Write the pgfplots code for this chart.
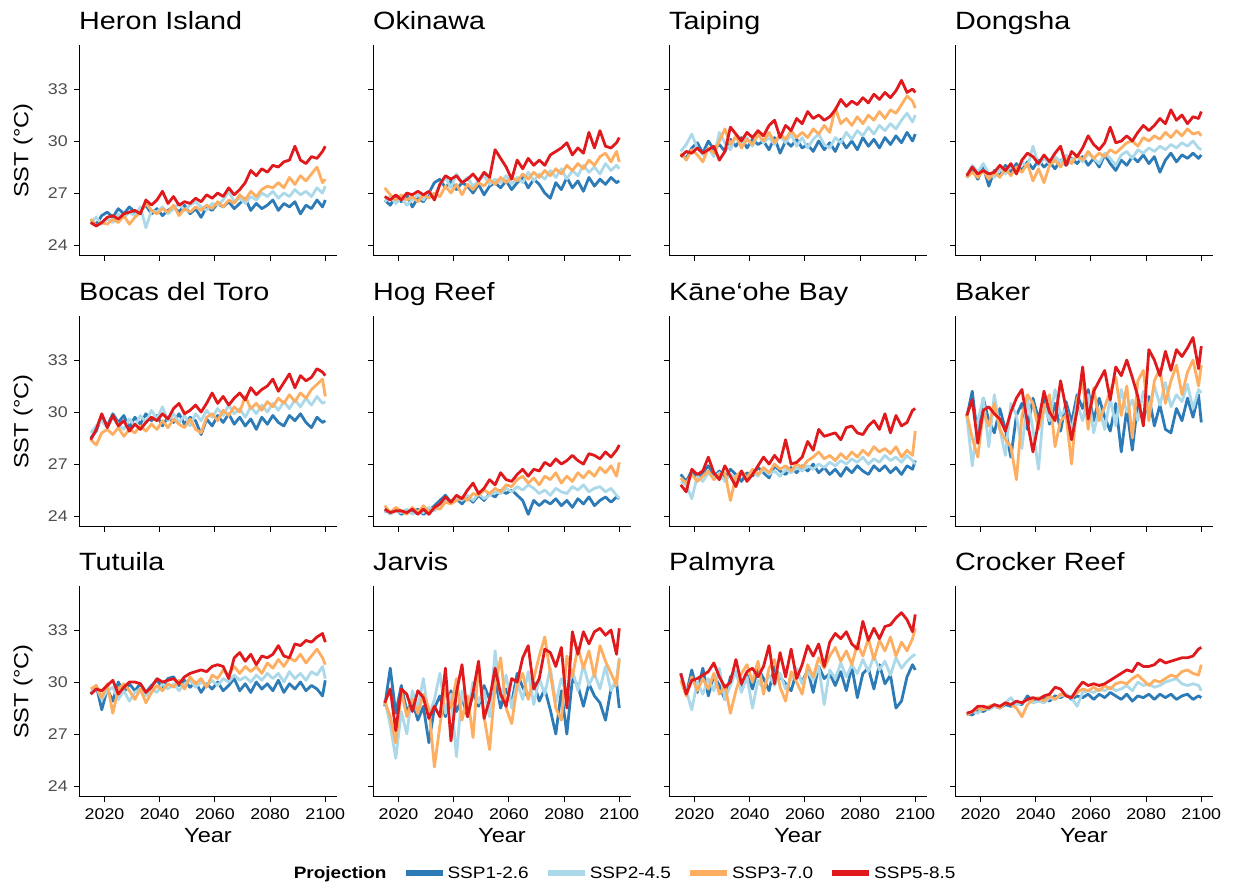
\documentclass[border=0pt]{standalone}
\usepackage{fontspec}
\setmainfont{Liberation Sans}[FakeStretch=1.15]
\usepackage{pgfplots}
\usepackage{pgfplotstable}
\pgfplotsset{compat=1.18}
\definecolor{c1}{HTML}{2C7BB6}
\definecolor{c2}{HTML}{ABD9E9}
\definecolor{c3}{HTML}{FDAE61}
\definecolor{c4}{HTML}{E0191C}
\definecolor{gray30}{HTML}{4D4D4D}

\pgfplotstableread{
yr a b c d
2015 25.4 25.3 25.5 25.3
2017 25.2 25.6 25.1 25.1
2019 25.7 25.2 25.3 25.3
2021 25.9 25.5 25.2 25.6
2023 25.6 25.3 25.5 25.7
2025 26.1 25.8 25.3 25.5
2027 25.8 25.6 25.7 25.8
2029 26.2 25.9 25.2 25.9
2031 25.9 25.7 25.6 26.0
2033 26.0 26.2 25.9 25.8
2035 26.3 25.0 26.4 26.6
2037 25.8 26.0 26.0 26.3
2039 26.1 25.9 25.8 26.6
2041 25.7 26.2 26.1 27.1
2043 26.0 25.8 25.9 26.4
2045 26.2 26.1 26.3 26.8
2047 25.9 26.4 25.7 26.3
2049 26.3 26.0 26.1 26.5
2051 25.8 26.3 25.9 26.4
2053 26.1 26.5 26.2 26.7
2055 25.6 26.2 26.0 26.5
2057 26.2 26.0 26.3 26.9
2059 26.0 26.4 26.1 26.7
2061 26.4 26.3 26.5 27.0
2063 26.2 26.6 26.2 26.8
2065 26.5 27.1 26.6 27.3
2067 26.1 26.5 26.4 26.9
2069 26.4 26.7 26.9 27.2
2071 26.7 26.4 26.6 27.6
2073 26.0 26.8 27.1 28.3
2075 26.4 26.6 26.8 28.0
2077 26.1 27.0 27.2 28.4
2079 26.3 26.8 27.4 28.2
2081 26.6 27.1 27.3 28.6
2083 26.0 26.7 27.6 28.5
2085 26.4 27.0 27.3 28.8
2087 26.2 26.8 27.9 28.9
2089 26.5 27.2 27.5 29.7
2091 25.8 26.9 28.0 28.9
2093 26.3 27.1 27.7 28.7
2095 26.1 26.8 28.1 29.1
2097 26.6 27.3 28.5 29.0
2099 26.2 27.0 27.6 29.4
2100 26.6 27.4 27.8 29.7
}\tHeron

\pgfplotstableread{
yr a b c d
2015 26.6 26.5 27.3 26.8
2017 26.3 26.8 26.9 26.6
2019 26.8 26.4 26.6 26.9
2021 26.5 26.7 26.9 26.6
2023 26.9 26.3 26.6 27.0
2025 26.2 26.6 26.8 26.9
2027 26.7 26.9 26.5 27.1
2029 26.5 26.6 26.9 26.9
2031 27.0 27.1 26.7 27.1
2033 27.6 26.8 27.0 26.6
2035 27.8 27.5 26.8 27.5
2037 27.3 27.9 27.4 28.0
2039 27.7 27.3 27.0 27.8
2041 27.2 28.1 27.5 28.0
2043 27.6 27.6 26.9 27.6
2045 27.4 27.9 27.5 27.8
2047 27.0 27.4 27.2 28.1
2049 27.5 27.7 27.6 27.7
2051 26.9 28.0 27.4 28.2
2053 27.4 27.5 27.8 27.9
2055 27.6 27.8 27.5 29.5
2057 27.3 27.6 27.9 29.0
2059 27.7 28.0 27.6 28.5
2061 27.2 27.5 27.9 27.8
2063 27.6 27.9 27.7 28.9
2065 27.9 27.6 28.1 28.4
2067 27.3 28.2 27.8 29.0
2069 27.8 27.7 28.2 28.6
2071 27.5 28.1 27.9 28.9
2073 27.0 27.8 28.3 28.6
2075 26.7 28.3 28.0 29.2
2077 27.6 27.9 28.4 29.4
2079 27.2 28.4 28.1 29.6
2081 27.9 27.8 28.6 29.9
2083 27.3 28.3 28.3 29.2
2085 27.7 28.0 28.7 29.6
2087 27.1 28.6 28.4 29.3
2089 27.9 28.2 28.9 30.5
2091 27.4 28.5 28.6 29.6
2093 27.8 28.1 29.1 30.6
2095 27.5 28.7 29.3 29.7
2097 27.9 28.3 28.8 29.6
2099 27.6 28.6 29.4 29.9
2100 27.7 28.4 28.8 30.2
}\tOkinawa

\pgfplotstableread{
yr a b c d
2015 29.2 29.4 29.3 29.1
2017 29.0 29.8 28.9 29.4
2019 29.6 30.4 29.5 29.3
2021 29.9 29.6 29.2 29.6
2023 29.3 29.2 28.8 29.3
2025 30.0 29.6 29.6 29.5
2027 29.5 29.1 29.3 29.7
2029 29.8 30.5 30.0 28.9
2031 29.4 29.9 30.7 29.4
2033 30.1 29.5 29.8 30.8
2035 29.7 30.3 30.3 30.4
2037 30.2 29.8 29.6 30.0
2039 29.6 30.2 30.1 30.5
2041 30.1 29.7 29.8 30.2
2043 29.8 30.4 30.4 30.6
2045 30.0 29.9 30.0 30.3
2047 29.5 30.2 30.5 30.9
2049 30.2 29.8 29.9 31.2
2051 29.3 30.3 30.4 30.2
2053 30.0 29.9 30.1 30.9
2055 29.7 30.4 30.6 30.6
2057 30.1 29.7 30.2 31.3
2059 29.6 30.2 30.5 31.0
2061 29.8 29.6 30.2 31.7
2063 29.4 30.1 30.7 31.3
2065 30.0 30.4 30.4 31.5
2067 29.5 29.8 30.9 31.2
2069 29.9 29.6 30.5 31.4
2071 29.4 30.2 31.9 31.8
2073 30.1 29.9 31.0 32.4
2075 29.6 30.5 31.3 32.0
2077 30.0 30.1 30.9 32.3
2079 29.5 30.6 31.4 32.1
2081 30.2 30.3 31.0 32.5
2083 29.7 30.8 31.5 32.2
2085 30.1 30.4 31.2 32.7
2087 29.6 30.9 31.7 32.4
2089 30.2 30.6 31.3 32.8
2091 29.8 31.0 31.8 32.5
2093 30.3 30.7 31.6 32.9
2095 29.9 31.2 32.1 33.5
2097 30.5 31.6 32.6 32.8
2099 30.0 31.1 32.3 33.0
2100 30.4 31.5 31.9 32.8
}\tTaiping

\pgfplotstableread{
yr a b c d
2015 27.9 28.0 27.9 28.0
2017 28.4 28.6 28.2 28.5
2019 27.8 28.2 27.9 28.1
2021 28.5 28.7 28.3 28.3
2023 27.4 28.1 27.8 28.1
2025 28.3 27.9 28.2 28.2
2027 28.0 28.4 27.9 28.6
2029 28.6 28.1 28.4 28.3
2031 28.2 28.6 28.0 28.7
2033 28.7 28.3 28.5 28.1
2035 28.3 28.8 28.2 28.9
2037 28.8 28.5 28.7 29.3
2039 28.4 29.7 27.7 29.1
2041 28.9 28.6 28.4 28.7
2043 28.5 29.0 27.6 29.2
2045 28.8 28.7 28.6 28.8
2047 28.4 29.1 28.9 29.3
2049 28.9 28.8 28.5 29.7
2051 28.6 29.2 29.0 28.6
2053 29.0 28.9 28.7 29.4
2055 28.7 29.1 29.2 29.1
2057 29.1 28.8 28.9 29.6
2059 28.6 29.3 29.4 30.3
2061 29.0 29.0 29.0 29.8
2063 28.5 28.7 29.3 29.5
2065 29.2 29.3 29.1 29.9
2067 28.7 29.0 29.5 30.8
2069 28.3 28.6 29.3 29.9
2071 28.9 29.2 29.6 30.0
2073 28.6 29.4 29.9 30.3
2075 29.1 29.0 30.0 30.0
2077 28.8 29.5 29.7 30.5
2079 29.2 29.3 30.2 30.9
2081 28.7 29.6 30.0 30.6
2083 29.1 29.4 30.3 30.9
2085 28.2 29.7 30.1 31.3
2087 28.9 29.5 30.5 31.0
2089 29.3 29.8 30.2 31.8
2091 28.8 29.6 30.6 31.2
2093 29.2 29.9 30.3 31.5
2095 29.0 29.7 30.7 31.0
2097 29.3 30.0 30.4 31.4
2099 29.0 29.6 30.5 31.3
2100 29.2 29.5 30.3 31.7
}\tDongsha

\pgfplotstableread{
yr a b c d
2015 28.5 28.8 28.4 28.4
2017 28.9 29.2 28.1 29.0
2019 29.8 29.5 28.8 29.9
2021 29.2 29.1 29.0 29.1
2023 29.9 29.7 28.7 29.8
2025 29.4 29.3 29.1 29.2
2027 29.8 29.0 28.6 29.5
2029 29.1 29.6 29.0 28.9
2031 29.7 29.2 28.8 29.3
2033 29.3 29.8 29.2 29.0
2035 29.9 29.4 28.9 29.4
2037 29.5 30.1 29.3 29.7
2039 29.8 29.6 29.0 29.5
2041 29.2 30.3 29.5 29.9
2043 29.7 29.5 29.1 29.6
2045 29.4 29.9 29.6 30.2
2047 29.9 29.4 29.3 30.5
2049 29.3 29.8 29.1 29.9
2051 29.7 29.2 29.6 30.1
2053 29.5 29.9 29.0 30.4
2055 28.7 29.5 28.8 30.0
2057 29.6 30.1 29.7 30.5
2059 29.2 29.7 29.9 31.1
2061 29.8 30.2 29.5 30.5
2063 29.4 29.8 30.1 30.9
2065 29.9 30.4 29.8 30.4
2067 29.3 29.9 30.3 30.8
2069 29.7 30.2 30.0 31.1
2071 29.2 29.7 30.9 30.7
2073 29.6 30.3 30.2 31.4
2075 29.0 29.9 30.5 31.0
2077 29.7 30.4 30.1 31.3
2079 29.3 30.0 30.6 31.5
2081 29.8 30.5 30.3 31.9
2083 29.4 30.1 30.8 31.2
2085 29.2 30.6 30.5 31.7
2087 29.8 30.2 31.0 32.2
2089 29.5 30.7 30.6 31.4
2091 29.9 30.3 31.1 32.1
2093 29.4 30.8 30.8 31.8
2095 29.1 30.4 31.3 32.0
2097 29.7 30.9 31.6 32.5
2099 29.4 30.5 31.9 32.3
2100 29.5 30.6 30.9 32.1
}\tBocas

\pgfplotstableread{
yr a b c d
2015 24.3 24.4 24.6 24.4
2017 24.2 24.1 24.2 24.2
2019 24.4 24.3 24.5 24.3
2021 24.1 24.2 24.3 24.3
2023 24.3 24.4 24.1 24.2
2025 24.2 24.1 24.5 24.4
2027 24.4 24.3 24.2 24.1
2029 24.1 24.2 24.6 24.4
2031 24.3 24.5 24.2 24.1
2033 24.6 24.3 24.5 24.5
2035 24.9 24.7 24.4 24.7
2037 25.2 25.0 24.8 25.1
2039 24.8 24.8 24.7 24.8
2041 25.0 25.1 24.9 25.2
2043 24.7 24.9 25.1 25.0
2045 25.1 25.2 24.9 25.5
2047 24.8 24.9 25.3 25.9
2049 25.2 25.3 25.2 25.3
2051 24.9 25.0 25.5 25.6
2053 25.3 25.2 25.3 26.1
2055 25.1 25.4 25.6 25.8
2057 25.5 25.3 25.4 26.5
2059 25.3 25.6 25.8 26.1
2061 25.5 25.4 25.7 26.0
2063 25.2 25.7 26.1 26.4
2065 24.9 25.5 26.3 26.7
2067 24.1 25.8 25.9 26.3
2069 24.9 25.6 26.2 26.7
2071 24.6 25.3 25.8 26.6
2073 24.9 25.5 26.3 27.1
2075 24.7 25.2 26.1 26.9
2077 25.0 25.6 26.5 27.3
2079 24.6 25.4 25.9 27.0
2081 24.9 25.3 26.3 27.2
2083 24.5 25.7 26.0 27.5
2085 25.0 25.5 26.5 27.2
2087 24.7 25.8 26.2 27.0
2089 25.1 25.4 26.6 27.6
2091 24.6 25.6 26.3 27.5
2093 24.9 25.7 26.8 27.3
2095 25.1 25.4 26.5 27.7
2097 24.8 25.6 26.9 27.4
2099 25.1 25.2 26.3 27.8
2100 25.0 25.0 27.1 28.1
}\tHog

\pgfplotstableread{
yr a b c d
2015 26.4 26.0 26.2 25.8
2017 26.0 25.8 25.9 25.4
2019 26.6 25.0 26.4 26.7
2021 26.2 26.3 26.0 26.4
2023 26.5 26.0 26.3 26.6
2025 26.9 26.5 26.6 27.4
2027 26.3 26.2 26.1 26.5
2029 26.6 26.5 26.4 26.1
2031 26.2 26.0 26.5 26.9
2033 26.7 26.4 24.9 26.3
2035 26.4 26.2 26.3 25.7
2037 26.0 26.5 26.6 26.6
2039 26.5 26.1 26.2 26.0
2041 26.3 26.6 26.7 26.4
2043 26.8 26.3 26.4 26.9
2045 26.5 26.7 26.8 27.4
2047 26.2 26.4 26.5 27.0
2049 26.9 26.6 27.0 27.5
2051 26.6 26.3 26.7 27.1
2053 26.4 26.7 26.9 28.4
2055 26.8 26.5 26.6 27.0
2057 26.5 26.8 27.0 27.1
2059 26.9 26.6 26.8 27.4
2061 26.6 26.9 27.2 28.3
2063 27.0 26.7 27.4 27.8
2065 26.5 27.0 27.7 29.0
2067 26.8 26.8 27.3 28.6
2069 26.4 27.1 27.5 28.7
2071 26.7 26.9 27.2 28.8
2073 26.3 27.2 27.6 28.4
2075 26.8 27.0 27.3 29.1
2077 26.5 27.3 27.7 29.2
2079 26.9 27.1 27.4 28.8
2081 26.6 27.4 27.8 28.7
2083 26.4 27.0 27.5 29.2
2085 26.9 27.3 28.0 29.5
2087 26.6 27.1 27.7 29.0
2089 26.9 27.5 27.9 29.9
2091 26.5 27.2 27.6 28.8
2093 26.8 27.4 28.0 29.8
2095 26.4 27.1 27.4 29.2
2097 26.9 27.5 27.8 29.4
2099 26.7 27.2 27.5 30.1
2100 27.2 27.0 28.9 30.2
}\tKaneohe

\pgfplotstableread{
yr a b c d
2015 29.7 29.8 29.9 29.8
2017 31.2 26.9 28.5 30.7
2019 28.5 29.5 27.4 28.2
2021 30.8 30.8 30.0 30.1
2023 29.5 28.0 29.2 30.3
2025 28.8 31.0 30.5 29.9
2027 30.2 29.0 29.0 29.6
2029 29.0 27.5 28.4 28.9
2031 27.4 30.5 28.0 30.0
2033 29.8 29.8 26.1 30.8
2035 30.5 27.9 29.8 31.3
2037 29.0 30.8 31.0 29.4
2039 30.8 29.0 30.5 27.7
2041 29.6 26.7 29.0 29.4
2043 30.9 30.4 30.2 31.2
2045 29.3 29.5 31.0 30.0
2047 30.5 31.3 28.0 29.5
2049 28.9 29.8 29.5 31.8
2051 30.6 30.2 29.8 30.2
2053 29.4 28.9 27.0 28.4
2055 31.0 30.5 30.7 30.1
2057 30.2 29.5 31.8 32.6
2059 31.3 31.0 29.0 29.6
2061 29.5 28.8 31.4 31.2
2063 30.8 30.2 29.5 31.8
2065 29.7 29.0 30.3 32.4
2067 28.9 30.8 31.2 30.7
2069 30.5 29.2 32.0 32.6
2071 27.7 31.3 29.8 32.1
2073 30.2 30.0 31.5 33.0
2075 27.8 30.7 28.5 32.0
2077 30.6 29.5 31.8 30.9
2079 29.5 31.2 32.4 29.2
2081 30.9 30.2 29.5 33.6
2083 29.2 31.5 31.8 33.0
2085 30.4 30.4 32.5 32.1
2087 29.0 31.7 30.5 33.5
2089 28.8 30.3 31.8 32.4
2091 30.2 31.0 32.7 33.6
2093 29.5 30.6 31.0 33.2
2095 30.8 31.6 32.3 33.7
2097 29.7 30.2 33.0 34.3
2099 31.0 31.3 31.5 32.5
2100 29.4 31.1 32.7 33.8
}\tBaker

\pgfplotstableread{
yr a b c d
2015 29.3 29.4 29.6 29.3
2017 29.8 29.7 29.8 29.6
2019 28.4 29.0 29.1 29.5
2021 29.6 29.5 29.9 29.8
2023 28.9 29.7 28.2 30.1
2025 30.0 29.0 29.6 29.3
2027 29.4 29.5 29.9 29.7
2029 29.9 28.9 29.5 30.0
2031 29.5 29.4 29.0 30.0
2033 29.9 29.6 29.6 29.9
2035 29.4 29.2 28.8 29.4
2037 29.8 29.6 29.4 29.7
2039 30.1 29.4 29.8 30.2
2041 29.7 29.9 29.5 30.0
2043 30.2 29.6 29.9 30.1
2045 30.3 29.9 29.7 30.2
2047 29.8 29.5 30.1 29.9
2049 30.1 29.9 29.6 30.3
2051 29.7 30.1 30.3 30.5
2053 30.0 29.7 29.9 30.6
2055 29.4 30.0 30.2 30.7
2057 29.9 29.8 29.7 30.6
2059 29.6 30.1 30.4 30.9
2061 30.0 29.8 30.2 31.0
2063 29.5 30.2 30.7 30.9
2065 29.8 30.0 30.4 30.2
2067 30.2 30.4 30.9 31.4
2069 29.5 30.1 30.5 31.7
2071 29.9 30.3 30.9 31.2
2073 29.4 30.0 30.6 31.6
2075 30.0 30.4 30.9 31.0
2077 29.6 30.1 30.5 31.5
2079 29.9 30.5 31.1 31.4
2081 29.5 30.2 30.8 31.6
2083 30.1 30.5 31.3 32.1
2085 29.4 30.0 30.9 31.5
2087 29.9 30.6 31.4 31.4
2089 29.6 30.2 31.2 32.2
2091 30.0 30.5 31.6 32.1
2093 29.5 30.1 31.1 32.4
2095 29.8 30.6 31.5 32.3
2097 29.6 30.4 31.9 32.6
2099 29.2 30.9 31.4 32.8
2100 30.1 30.2 31.0 32.3
}\tTutuila

\pgfplotstableread{
yr a b c d
2015 28.6 29.0 28.9 28.8
2017 30.8 27.5 28.0 29.6
2019 28.2 25.6 26.5 27.2
2021 29.8 28.3 29.5 29.6
2023 28.3 27.0 28.0 29.3
2025 28.9 29.5 29.0 28.3
2027 27.8 28.5 28.2 29.5
2029 28.6 30.2 29.3 29.1
2031 26.5 28.0 28.5 27.9
2033 28.5 29.0 25.1 28.6
2035 29.2 30.5 27.5 28.0
2037 28.0 28.2 29.6 30.8
2039 29.5 29.3 28.5 26.6
2041 28.3 25.7 30.2 29.4
2043 29.1 29.5 27.8 31.0
2045 28.0 28.2 29.2 28.0
2047 29.4 30.0 26.8 29.4
2049 28.6 28.8 31.0 31.2
2051 29.8 29.5 28.0 27.9
2053 29.0 28.0 26.1 29.0
2055 30.2 31.8 29.8 30.8
2057 28.5 29.0 31.4 29.3
2059 29.6 30.4 28.5 28.6
2061 28.8 28.5 27.6 30.2
2063 30.5 30.0 29.8 30.0
2065 29.7 29.0 30.5 31.4
2067 29.1 30.6 29.0 32.1
2069 30.0 28.7 30.2 29.6
2071 28.9 30.2 31.5 30.2
2073 29.6 29.3 32.6 31.9
2075 28.4 30.8 30.5 31.7
2077 27.0 28.8 28.5 30.9
2079 29.5 30.2 27.8 32.0
2081 27.0 29.3 31.5 28.5
2083 30.2 30.7 30.3 32.9
2085 29.8 29.5 32.0 31.6
2087 28.6 31.0 30.8 32.9
2089 29.9 29.8 31.8 32.2
2091 29.2 30.5 30.3 32.9
2093 28.8 29.6 32.1 33.1
2095 27.8 30.9 31.2 32.7
2097 29.6 29.5 30.5 33.0
2099 30.0 30.2 29.8 31.6
2100 28.5 31.4 31.3 33.1
}\tJarvis

\pgfplotstableread{
yr a b c d
2015 30.5 30.4 30.1 30.5
2017 29.3 29.5 29.2 29.3
2019 30.7 28.4 30.3 30.1
2021 29.4 30.0 29.5 30.2
2023 30.8 29.3 30.2 30.4
2025 29.2 30.2 29.6 30.6
2027 30.4 29.5 30.5 31.1
2029 29.8 30.8 29.3 30.3
2031 29.0 29.0 29.8 29.7
2033 30.3 29.8 28.2 30.0
2035 30.6 30.6 29.5 31.3
2037 29.7 29.4 30.5 29.9
2039 30.4 30.3 31.0 30.6
2041 29.6 28.5 30.0 30.8
2043 30.8 30.1 31.2 30.3
2045 30.2 29.6 29.3 30.9
2047 29.5 30.4 30.8 32.1
2049 30.9 29.8 31.3 29.9
2051 30.3 30.5 29.7 31.7
2053 29.9 29.6 28.9 30.3
2055 29.5 30.2 30.6 31.9
2057 30.6 30.8 30.0 30.2
2059 30.0 29.9 29.3 31.0
2061 30.7 30.6 31.0 32.1
2063 29.4 30.1 30.3 31.5
2065 30.9 30.9 31.4 32.2
2067 30.2 28.7 30.8 30.9
2069 30.5 30.7 31.5 32.3
2071 29.8 30.2 32.0 32.8
2073 30.6 31.1 31.2 32.5
2075 29.5 30.3 31.8 32.9
2077 30.9 31.0 31.0 32.2
2079 29.1 30.5 32.2 31.9
2081 30.5 31.3 31.5 33.5
2083 30.8 30.6 32.5 32.4
2085 29.6 31.5 31.3 33.1
2087 31.0 30.7 32.4 32.5
2089 29.9 31.2 31.8 33.2
2091 30.4 30.4 32.6 33.3
2093 28.5 31.4 31.5 33.7
2095 28.9 30.8 32.3 34.0
2097 30.3 31.2 31.8 33.6
2099 31.0 31.5 32.5 32.9
2100 30.7 31.6 33.1 33.9
}\tPalmyra

\pgfplotstableread{
yr a b c d
2015 28.2 28.1 28.1 28.2
2017 28.1 28.3 28.3 28.3
2019 28.4 28.2 28.5 28.6
2021 28.3 28.5 28.4 28.6
2023 28.5 28.4 28.6 28.5
2025 28.6 28.6 28.7 28.7
2027 28.5 28.5 28.5 28.6
2029 28.7 28.8 28.8 28.8
2031 28.6 29.1 28.7 28.7
2033 28.8 28.7 28.5 28.9
2035 28.7 28.8 28.0 28.8
2037 29.2 29.0 28.7 29.0
2039 28.9 28.8 29.0 29.1
2041 29.0 28.9 29.1 29.0
2043 29.1 28.8 28.9 29.2
2045 28.9 29.1 29.2 29.3
2047 29.2 29.0 29.0 29.7
2049 29.1 29.2 29.3 29.6
2051 29.3 29.3 29.2 29.2
2053 29.0 29.1 29.1 29.1
2055 29.2 28.6 29.4 29.6
2057 29.1 29.4 29.6 30.0
2059 29.3 29.5 29.5 29.8
2061 29.0 29.4 29.7 29.9
2063 29.3 29.6 29.5 29.8
2065 29.1 29.5 29.8 29.9
2067 29.4 29.7 29.6 30.1
2069 29.2 29.5 29.9 30.3
2071 29.0 29.6 30.0 30.5
2073 29.3 29.8 29.9 30.7
2075 28.9 29.5 30.2 30.6
2077 29.2 30.0 30.4 31.1
2079 29.1 29.8 30.1 30.9
2081 29.3 29.9 29.8 30.9
2083 29.0 29.7 30.1 31.0
2085 29.3 29.8 30.0 31.3
2087 29.1 30.0 30.2 31.1
2089 29.3 30.1 30.4 31.2
2091 29.0 30.2 30.3 31.3
2093 29.2 29.9 30.6 31.4
2095 29.3 29.8 30.7 31.4
2097 29.0 29.9 30.5 31.5
2099 29.2 29.8 30.4 31.9
2100 29.1 29.5 31.0 32.0
}\tCrocker

\pgfplotsset{
  panel/.style={
    scale only axis, width=258pt, height=211pt, anchor=south west,
    xmin=2010.75, xmax=2104.25, ymin=23.37, ymax=35.54,
    axis x line*=bottom, axis y line*=left,
    axis line style={-, line width=1pt, black},
    xtick={2020,2040,2060,2080,2100}, ytick={24,27,30,33},
    tick align=outside, major tick length=5pt,
    tick style={line width=1pt, black},
    /pgf/number format/assume math mode=true,
    /pgf/number format/1000 sep={},
    xticklabel style={font=\fontsize{15.5}{18}\selectfont, text=black, inner sep=0pt, yshift=-6pt},
    yticklabel style={font=\fontsize{15.5}{18}\selectfont, text=gray30, inner sep=0pt, xshift=-6pt},
    title style={at={(0,1)}, anchor=base west, yshift=9pt, inner sep=0pt, font=\fontsize{25}{28}\selectfont},
  },
  noxl/.style={xticklabels={}},
  noyl/.style={yticklabels={}},
  yl/.style={ylabel={SST (°C)}, ylabel style={at={(axis description cs:0,0.5)}, anchor=center, yshift=56pt, font=\fontsize{20.5}{24}\selectfont}},
  xl/.style={xlabel={Year}, xlabel style={at={(axis description cs:0.5,0)}, anchor=base, yshift=-46pt, font=\fontsize{20.5}{24}\selectfont}},
  ser/.style={line width=2.8pt, line join=round, no markers},
}

\newcommand\fourlines[1]{%
  \addplot[ser, c1] table[x=yr, y=a] {#1};
  \addplot[ser, c2] table[x=yr, y=b] {#1};
  \addplot[ser, c3] table[x=yr, y=c] {#1};
  \addplot[ser, c4] table[x=yr, y=d] {#1};
}

\begin{document}
\begin{tikzpicture}
\path[use as bounding box] (0pt,0pt) rectangle (1233pt,890pt);

% Row 1
\begin{axis}[panel, at={(79pt,634pt)}, title={Heron Island}, noxl, yl]
\fourlines{\tHeron}
\end{axis}
\begin{axis}[panel, at={(373pt,634pt)}, title={Okinawa}, noxl, noyl]
\fourlines{\tOkinawa}
\end{axis}
\begin{axis}[panel, at={(669pt,634pt)}, title={Taiping}, noxl, noyl]
\fourlines{\tTaiping}
\end{axis}
\begin{axis}[panel, at={(955pt,634pt)}, title={Dongsha}, noxl, noyl]
\fourlines{\tDongsha}
\end{axis}

% Row 2
\begin{axis}[panel, at={(79pt,363pt)}, title={Bocas del Toro}, noxl, yl]
\fourlines{\tBocas}
\end{axis}
\begin{axis}[panel, at={(373pt,363pt)}, title={Hog Reef}, noxl, noyl]
\fourlines{\tHog}
\end{axis}
\begin{axis}[panel, at={(669pt,363pt)}, title={Kāne‘ohe Bay}, noxl, noyl]
\fourlines{\tKaneohe}
\end{axis}
\begin{axis}[panel, at={(955pt,363pt)}, title={Baker}, noxl, noyl]
\fourlines{\tBaker}
\end{axis}

% Row 3
\begin{axis}[panel, at={(79pt,93pt)}, title={Tutuila}, yl, xl]
\fourlines{\tTutuila}
\end{axis}
\begin{axis}[panel, at={(373pt,93pt)}, title={Jarvis}, noyl, xl]
\fourlines{\tJarvis}
\end{axis}
\begin{axis}[panel, at={(669pt,93pt)}, title={Palmyra}, noyl, xl]
\fourlines{\tPalmyra}
\end{axis}
\begin{axis}[panel, at={(955pt,93pt)}, title={Crocker Reef}, noyl, xl]
\fourlines{\tCrocker}
\end{axis}

% Legend
\begin{axis}[at={(0pt,0pt)}, anchor=south west, scale only axis, width=1233pt, height=40pt,
  hide axis, xmin=0, xmax=1, ymin=0, ymax=1,
  legend columns=5,
  legend style={at={(axis description cs:0.2365,0.425)}, anchor=west, draw=none, fill=none,
    font=\fontsize{16.5}{19}\selectfont, inner sep=0pt,
    /tikz/every even column/.append style={column sep=14pt}},
  legend image code/.code={\draw[#1] (0pt,0pt) -- (37pt,0pt);},
]
\addlegendimage{empty legend}\addlegendentry{\textbf{Projection}}
\addlegendimage{c1, line width=6pt}\addlegendentry{SSP1-2.6}
\addlegendimage{c2, line width=6pt}\addlegendentry{SSP2-4.5}
\addlegendimage{c3, line width=6pt}\addlegendentry{SSP3-7.0}
\addlegendimage{c4, line width=6pt}\addlegendentry{SSP5-8.5}
\end{axis}
\end{tikzpicture}
\end{document}
